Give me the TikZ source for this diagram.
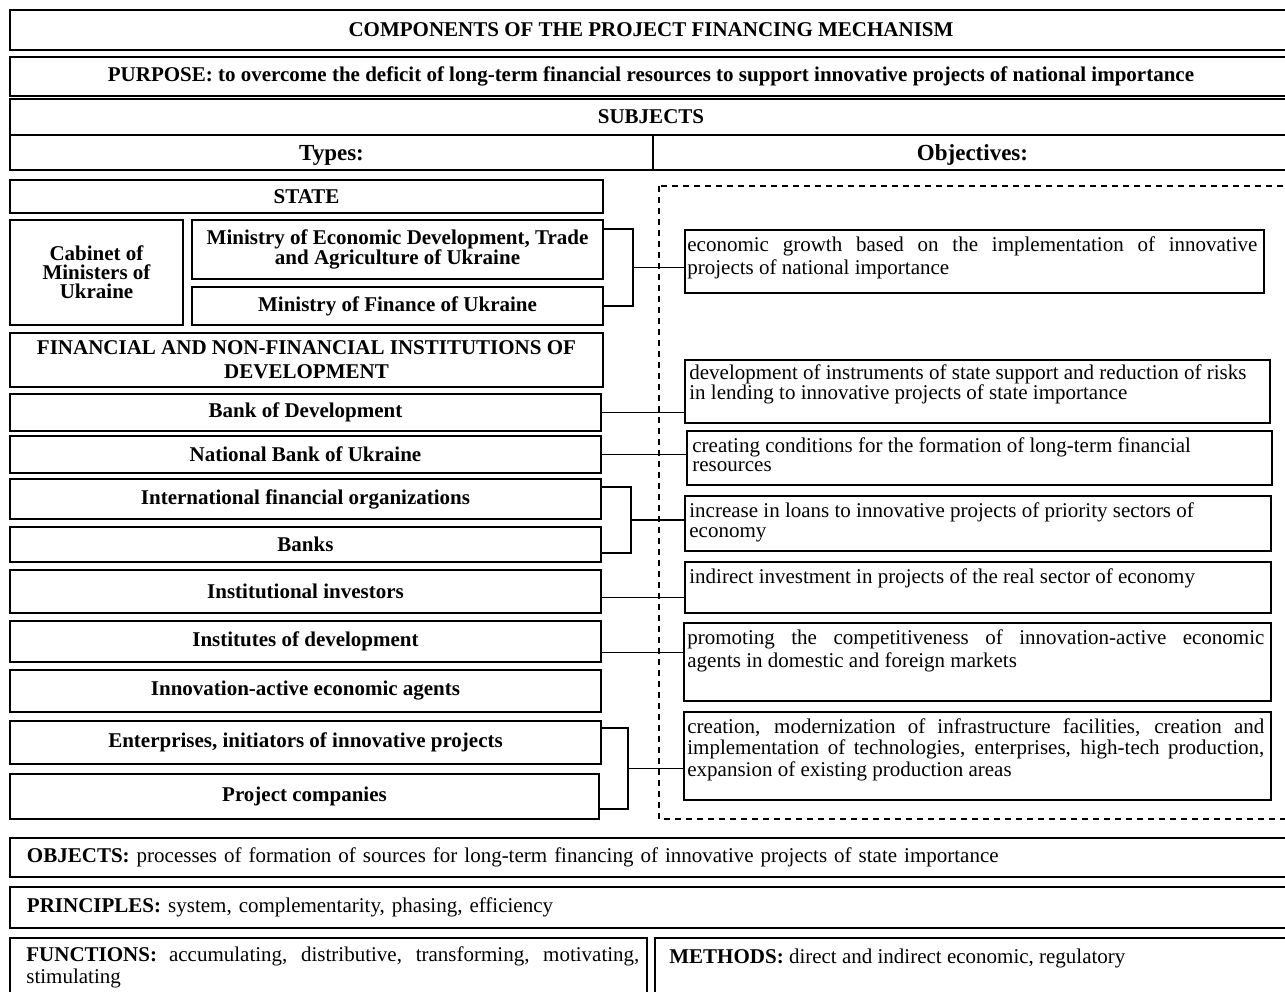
\documentclass[tikz,border=0pt]{standalone}
\usepackage{fontspec}
\setmainfont{Liberation Serif}
\tolerance=10000
\tikzset{
  blk/.style={draw, line width=1.6pt, inner sep=0pt, align=center,
    font=\bfseries\fontsize{21}{19}\selectfont},
  objbox/.style={draw, line width=1.6pt, inner sep=0pt},
  objtxt/.style={inner sep=0pt, anchor=north west, align=left,
    font=\fontsize{21}{21}\selectfont},
  conn/.style={line width=1.6pt},
}
\begin{document}
\begin{tikzpicture}[x=1pt,y=-1pt]
\useasboundingbox[fill=white] (0,0) rectangle (1285,992);

% heading rows
\node[blk, minimum width=1282pt, minimum height=40pt] (title) at (651,30)
  {COMPONENTS OF THE PROJECT FINANCING MECHANISM};
\node[blk, minimum width=1282pt, minimum height=39pt] (purpose) at (651,76.5)
  {PURPOSE: to overcome the deficit of long-term financial resources to support innovative projects of national importance};
\node[blk, minimum width=1282pt, minimum height=36pt] (subjects) at (651,117) {SUBJECTS};
\node[blk, font=\bfseries\fontsize{23}{23}\selectfont, minimum width=643pt, minimum height=35pt,
  text height=19pt, text depth=2pt] (types) at (331.5,152.5) {Types:};
\node[blk, font=\bfseries\fontsize{23}{23}\selectfont, minimum width=639pt, minimum height=35pt,
  text height=19pt, text depth=2pt] (objectives) at (972.5,152.5) {Objectives:};

% types of subjects
\foreach \nm/\xa/\ya/\xb/\yb/\txt in {
    state/10/180/603/213/STATE,
    cabinet/10/220/183/325/{Cabinet of\\Ministers of\\Ukraine},
    econ/192/220/603/279/{Ministry of Economic Development, Trade\\and Agriculture of Ukraine},
    finmin/192/287/603/325/{Ministry of Finance of Ukraine},
    fininst/10/333/603/387/{FINANCIAL AND NON-FINANCIAL INSTITUTIONS OF\\[5pt]DEVELOPMENT},
    bankdev/10/394/601/431/{Bank of Development},
    nbu/10/436/601/473/{National Bank of Ukraine},
    ifo/10/479/601/519/{International financial organizations},
    banks/10/527/601/562/Banks,
    instinv/10/570/601/613/{Institutional investors},
    instdev/10/621/601/662/{Institutes of development},
    innact/10/670/601/712/{Innovation-active economic agents},
    enter/10/721/601/764/{Enterprises, initiators of innovative projects},
    projco/10/774/599/819/{Project companies}}
  \node[blk, minimum width={(\xb-\xa)*1pt}, minimum height={(\yb-\ya)*1pt}]
    (\nm) at ({(\xa+\xb)/2},{(\ya+\yb)/2}) {\txt};

% objectives
\draw[line width=1.2pt, dash pattern=on 6pt off 5pt] (659,186) rectangle (1295,819);
\foreach \nm/\xa/\ya/\xb/\yb in {ob1/685/230/1264/293, ob2/685/360/1270/423,
    ob3/687/431/1272/485, ob4/685/496/1271/551, ob5/685/562/1271/613,
    ob6/684/623/1271/701, ob7/684/712/1271/800}
  \node[objbox, minimum width={(\xb-\xa)*1pt}, minimum height={(\yb-\ya)*1pt}]
    (\nm) at ({(\xa+\xb)/2},{(\ya+\yb)/2}) {};

\node[objtxt, text width=570pt, align=justify, font=\fontsize{21}{23}\selectfont] (t1)
  at ([shift={(3pt,-7pt)}]ob1.north west)
  {economic growth based on the implementation of innovative\linebreak projects of national importance};
\node[objtxt, font=\fontsize{21}{18}\selectfont] (t2) at ([shift={(5pt,-5pt)}]ob2.north west)
  {development of instruments of state support and reduction of risks\\in lending to innovative projects of state importance};
\node[objtxt, font=\fontsize{21}{19}\selectfont] (t3) at ([shift={(6pt,-7pt)}]ob3.north west)
  {creating conditions for the formation of long-term financial\\resources};
\node[objtxt, font=\fontsize{21}{20}\selectfont] (t4) at ([shift={(5pt,-7pt)}]ob4.north west)
  {increase in loans to innovative projects of priority sectors of\\economy};
\node[objtxt] (t5) at ([shift={(5pt,-7pt)}]ob5.north west)
  {indirect investment in projects of the real sector of economy};
\node[objtxt, text width=577pt, align=justify, font=\fontsize{21}{23}\selectfont] (t6)
  at ([shift={(4pt,-7pt)}]ob6.north west)
  {promoting the competitiveness of innovation-active economic\linebreak agents in domestic and foreign markets};
\node[objtxt, text width=577pt, align=justify, font=\fontsize{21}{21.5}\selectfont] (t7)
  at ([shift={(4pt,-7pt)}]ob7.north west)
  {creation, modernization of infrastructure facilities, creation and\linebreak implementation of technologies, enterprises, high-tech production,\linebreak expansion of existing production areas};

% connectors
\draw[conn] ([yshift=-10pt]econ.north east) -- ++(29,0)
  |- node[pos=.25, coordinate] (j1) {} (finmin.east);
\draw[conn] (j1) -- (j1 -| ob1.west);
\draw[conn] (bankdev.east) -- (bankdev.east -| ob2.west);
\draw[conn] (nbu.east) -- (nbu.east -| ob3.west);
\draw[conn] ([yshift=-9pt]ifo.north east) -- ++(29,0)
  |- node[pos=.25, coordinate] (j2) {} ([yshift=10pt]banks.south east);
\draw[conn] (j2) -- (j2 -| ob4.west);
\draw[conn] ([yshift=-6pt]instinv.east) -- ([yshift=-6pt]instinv.east -| ob5.west);
\draw[conn] ([yshift=-11pt]instdev.east) -- ([yshift=-11pt]instdev.east -| ob6.west);
\draw[conn] ([yshift=-8pt]enter.north east) -- ++(26,0)
  |- node[pos=.25, coordinate] (j3) {} ([yshift=11pt]projco.south east);
\draw[conn] (j3) -- (j3 -| ob7.west);

% objects, principles, functions, methods
\node[blk, font=\fontsize{21}{21}\selectfont, align=left, text width=1248pt, inner xsep=17pt,
  minimum height=39pt] (objects) at (651,857.5)
  {\textbf{OBJECTS:} processes of formation of sources for long-term financing of innovative projects of state importance};
\node[blk, font=\fontsize{21}{21}\selectfont, align=left, text width=1248pt, inner xsep=17pt,
  minimum height=41pt] (principles) at (651,907.5)
  {\textbf{PRINCIPLES:} system, complementarity, phasing, efficiency};
\node[objbox, minimum width=637pt, minimum height=67pt] (functions) at (328.5,971.5) {};
\node[objbox, minimum width=637pt, minimum height=67pt] (methods) at (973.5,971.5) {};
\node[objtxt, text width=613pt, align=justify, font=\fontsize{21}{22}\selectfont] (tf)
  at ([shift={(17pt,-9pt)}]functions.north west)
  {\textbf{FUNCTIONS:} accumulating, distributive, transforming, motivating,\linebreak stimulating};
\node[objtxt] (tm) at ([shift={(15pt,-12pt)}]methods.north west)
  {\textbf{METHODS:} direct and indirect economic, regulatory};
\end{tikzpicture}
\end{document}
